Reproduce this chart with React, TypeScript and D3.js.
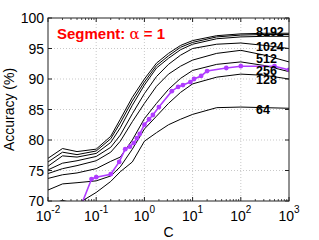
import React from "react";
import * as d3 from "d3";

// C grid shared by the black curves (feature dimension)
const cGrid = [0.01, 0.02, 0.04, 0.1, 0.2, 0.316, 0.562, 1, 1.78, 3.16, 5.62, 10, 31.6, 100, 316, 1000];

const acc8192 = [77.0, 78.6, 78.1, 78.5, 80.6, 83.4, 87.0, 90.0, 92.6, 94.2, 95.5, 96.3, 97.1, 97.4, 97.5, 97.5];
const acc4096 = [76.4, 78.0, 77.6, 78.2, 80.2, 82.8, 86.4, 89.5, 92.2, 93.8, 95.2, 96.0, 96.9, 97.2, 97.3, 97.3];
const acc2048 = [75.7, 77.4, 77.2, 77.8, 79.6, 82.0, 85.7, 89.0, 91.8, 93.4, 94.8, 95.7, 96.6, 96.9, 97.0, 97.0];
const acc1024 = [75.1, 76.2, 76.6, 77.3, 78.8, 80.8, 84.3, 87.6, 90.4, 92.4, 93.9, 95.0, 95.7, 95.9, 95.5, 95.0];
const acc512 = [74.5, 75.3, 75.8, 76.6, 78.0, 79.8, 83.0, 86.0, 88.8, 90.8, 92.1, 93.1, 94.2, 94.7, 93.9, 92.8];
const acc256 = [73.7, 74.3, 74.6, 75.3, 76.5, 77.2, 80.0, 83.5, 86.0, 88.3, 90.1, 91.4, 92.4, 92.8, 92.2, 91.2];
const acc128 = [71.8, 72.8, 73.0, 73.3, 74.1, 75.6, 78.5, 81.8, 83.9, 86.0, 87.8, 89.2, 90.3, 90.8, 90.6, 90.0];
const acc64 = [69.3, 70.1, 69.5, 71.4, 73.2, 74.8, 76.4, 79.8, 81.2, 82.5, 83.4, 84.2, 85.3, 85.4, 85.3, 85.2];

const blackSeries = [acc8192, acc4096, acc2048, acc1024, acc512, acc256, acc128, acc64];

// purple (marked) curve
const purpleC = [0.05, 0.08, 0.1, 0.2, 0.3, 0.4, 0.5, 0.6, 0.7, 0.8, 1, 1.25, 1.5, 2, 3.7, 5, 6.3, 9, 10.7, 15, 20, 50, 100, 500, 1000];
const purpleAcc = [69.5, 73.6, 73.9, 74.4, 76.4, 78.5, 78.9, 79.5, 80.3, 81.0, 82.5, 83.4, 84.1, 85.4, 88.0, 88.7, 89.0, 89.5, 90.0, 90.5, 91.3, 91.8, 92.1, 92.1, 91.5];

const curveLabels = ["8192", "1024", "512", "256", "128", "64"];
const labelAcc = [97.05, 94.55, 92.6, 90.7, 89.15, 84.3];

const yTicks = [70, 75, 80, 85, 90, 95, 100];
const xExps = [-2, -1, 0, 1, 2, 3];

const W = 319;
const H = 240;
const left = 48;
const right = 289;
const top = 18;
const bottom = 201;

const font = "'Liberation Sans', Arial, Helvetica, sans-serif";

export default function App() {
  const x = d3.scaleLog().domain([0.01, 1000]).range([left, right]);
  const y = d3.scaleLinear().domain([70, 100]).range([bottom, top]);

  const line = d3
    .line<[number, number]>()
    .x((d) => x(d[0]))
    .y((d) => y(d[1]));

  const minorTicks: number[] = [];
  for (let e = -2; e < 3; e++) {
    for (let m = 2; m <= 9; m++) minorTicks.push(m * Math.pow(10, e));
  }

  const purplePts = purpleC.map((c, i) => [c, purpleAcc[i]] as [number, number]);

  return (
    <svg
      width={W}
      height={H}
      style={{ position: "fixed", left: 0, top: 0, background: "#fff" }}
      fontFamily={font}
    >
      <defs>
        <clipPath id="plot">
          <rect x={left} y={top} width={right - left} height={bottom - top} />
        </clipPath>
      </defs>

      {/* grid */}
      {xExps.slice(1, -1).map((e) => (
        <line
          key={"gx" + e}
          x1={x(Math.pow(10, e))}
          x2={x(Math.pow(10, e))}
          y1={top}
          y2={bottom}
          stroke="#bbb"
          strokeWidth={0.8}
          strokeDasharray="1,2"
        />
      ))}
      {yTicks.slice(1, -1).map((t) => (
        <line
          key={"gy" + t}
          x1={left}
          x2={right}
          y1={y(t)}
          y2={y(t)}
          stroke="#bbb"
          strokeWidth={0.8}
          strokeDasharray="1,2"
        />
      ))}

      {/* curves */}
      <g clipPath="url(#plot)" fill="none">
        {blackSeries.map((s, i) => (
          <path
            key={i}
            d={line(cGrid.map((c, j) => [c, s[j]] as [number, number])) ?? ""}
            stroke="#000"
            strokeWidth={1}
          />
        ))}
        <path d={line(purplePts) ?? ""} stroke="#b03cff" strokeWidth={1.6} />
        {purplePts.map((p, i) => (
          <circle key={i} cx={x(p[0])} cy={y(p[1])} r={2.4} fill="#b03cff" />
        ))}
      </g>

      {/* curve labels */}
      {curveLabels.map((l, i) => (
        <text
          key={l}
          x={256}
          y={y(labelAcc[i])}
          fontSize={12.5}
          fontWeight="bold"
          fill="#000"
        >
          {l}
        </text>
      ))}

      {/* frame */}
      <rect x={left} y={top} width={right - left} height={bottom - top} fill="none" stroke="#222" strokeWidth={1} />

      {/* ticks */}
      {yTicks.map((t) => (
        <g key={"ty" + t}>
          <line x1={left} x2={left + 4} y1={y(t)} y2={y(t)} stroke="#222" />
          <line x1={right} x2={right - 4} y1={y(t)} y2={y(t)} stroke="#222" />
          <text x={left - 4} y={y(t) + 5} fontSize={14} textAnchor="end" fill="#000">
            {t}
          </text>
        </g>
      ))}
      {xExps.map((e) => (
        <g key={"tx" + e}>
          <line x1={x(Math.pow(10, e))} x2={x(Math.pow(10, e))} y1={bottom} y2={bottom - 4} stroke="#222" />
          <line x1={x(Math.pow(10, e))} x2={x(Math.pow(10, e))} y1={top} y2={top + 4} stroke="#222" />
          <text x={x(Math.pow(10, e))} y={221} fontSize={14} textAnchor="middle" fill="#000">
            10
            <tspan dy={-8} fontSize={10}>
              {e}
            </tspan>
          </text>
        </g>
      ))}
      {minorTicks.map((m, i) => (
        <g key={"mx" + i}>
          <line x1={x(m)} x2={x(m)} y1={bottom} y2={bottom - 2} stroke="#222" strokeWidth={0.8} />
          <line x1={x(m)} x2={x(m)} y1={top} y2={top + 2} stroke="#222" strokeWidth={0.8} />
        </g>
      ))}

      {/* axis labels */}
      <text x={(left + right) / 2} y={237} fontSize={14} textAnchor="middle" fill="#000">
        C
      </text>
      <text
        transform={`translate(14, ${(top + bottom) / 2}) rotate(-90)`}
        fontSize={14}
        textAnchor="middle"
        fill="#000"
      >
        Accuracy (%)
      </text>

      {/* title */}
      <text x={57} y={39} fontSize={15} fontWeight="bold" fill="#ff0000">
        Segment:{" "}
        <tspan fontWeight="normal" fontFamily="'DejaVu Serif', serif">
          α
        </tspan>
        {" = 1"}
      </text>
    </svg>
  );
}
